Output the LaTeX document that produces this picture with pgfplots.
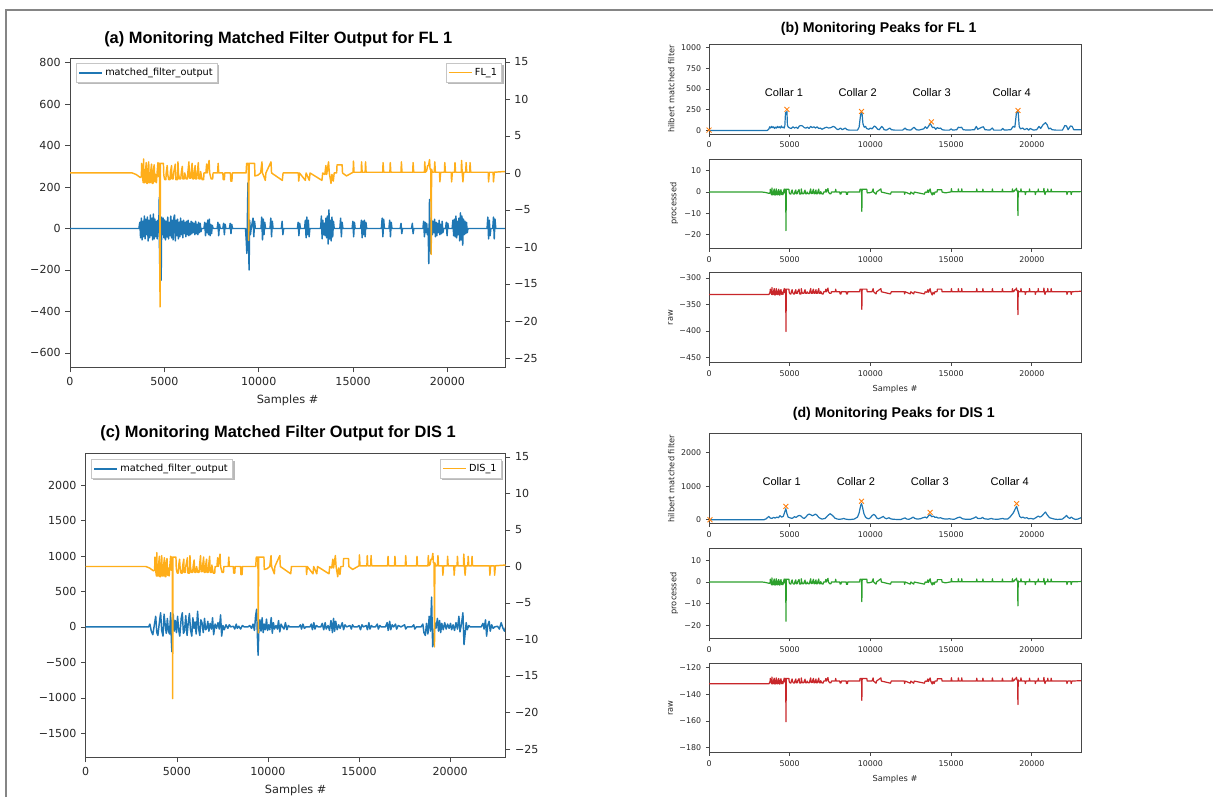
\documentclass[border=0pt]{standalone}
\usepackage{fontspec}
\setmainfont{DejaVu Sans}
\newfontfamily\arialfont{Liberation Sans}
\usepackage{pgfplots}
\pgfplotsset{compat=1.18}
\usepackage{pgfplotstable}
\pgfdeclarelayer{background}
\pgfsetlayers{background,main}

\definecolor{mblue}{HTML}{1F77B4}
\definecolor{morange}{HTML}{FFAE1A}
\definecolor{xorange}{HTML}{FF7F0E}
\definecolor{mgreen}{HTML}{2CA02C}
\definecolor{mred}{HTML}{C8262A}
\definecolor{spine}{HTML}{474747}
\definecolor{framec}{HTML}{858585}

% processed signal (p), raw for FL 1 (rb), raw for DIS 1 (rd)
\pgfplotstableread{
t p rb rd
0 0 -331 -132
3300 0 -331 -132
3500 -0.2 -331 -132
3720 -0.6 -331 -132
3780 -0.5 -327 -130.5
3800 1.3 -321 -128
3830 -0.4 -327 -130.6
3880 -1.3 -331 -132
3900 1.9 -318 -127
3920 -1.3 -331 -132
3980 -1.3 -331 -132
4000 0.2 -325 -129.7
4040 1.4 -320 -127.8
4070 -1.4 -332 -132.2
4110 -1.4 -332 -132.2
4130 0.1 -326 -130
4170 1.5 -320 -127.6
4200 -1.3 -331 -132
4260 -1.3 -331 -132
4280 0.3 -325 -129.5
4320 1.2 -321 -128
4350 -1.4 -332 -132.2
4400 -1.4 -332 -132.2
4420 0.4 -324 -129.4
4460 1.1 -322 -128.2
4500 -1.2 -331 -132
4540 -0.2 -327 -130.3
4580 -1.3 -331 -132
4620 0.2 -325 -129.7
4660 1.4 -320 -127.8
4700 -0.5 -328 -130.8
4720 1.3 -321 -128
4750 1.3 -321 -128
4770 -18.1 -401 -160.5
4790 1.3 -321 -128
4950 1.3 -321 -128
4970 -0.3 -327 -130.5
5020 -0.9 -330 -131.4
5080 -0.9 -330 -131.4
5100 0.1 -326 -130
5150 1.0 -322 -128.4
5180 -0.2 -327 -130.3
5230 -0.9 -330 -131.4
5300 -0.9 -330 -131.4
5320 0.1 -326 -130
5380 1.0 -322 -128.4
5400 -0.8 -329 -131.3
5470 -0.8 -329 -131.3
5490 0 -326 -130
5580 1.2 -321 -128.1
5610 -0.9 -330 -131.4
5700 -0.9 -330 -131.4
5720 1.5 -320 -127.6
5750 -0.1 -326 -130.2
5800 -0.8 -329 -131.3
5870 -0.8 -329 -131.3
5900 0.1 -326 -130
5950 0.9 -322 -128.6
5980 -0.8 -329 -131.3
6050 -0.8 -329 -131.3
6080 0 -326 -130
6150 -0.8 -329 -131.3
6220 -0.8 -329 -131.3
6250 0.2 -325 -129.7
6300 1.5 -320 -127.6
6330 -0.7 -329 -131.1
6400 -0.7 -329 -131.1
6420 0.2 -325 -129.7
6470 1.3 -321 -128
6500 -0.8 -329 -131.3
6560 -0.8 -329 -131.3
6580 0.1 -326 -130
6630 1.0 -322 -128.4
6650 -0.8 -329 -131.3
6720 -0.8 -329 -131.3
6740 0 -326 -130
6800 1.4 -320 -127.8
6830 -0.8 -329 -131.3
6900 -0.8 -329 -131.3
6920 0.2 -325 -129.7
7000 -0.9 -330 -131.4
7080 -0.9 -330 -131.4
7100 0 -326 -130
7200 0 -326 -130
7240 1.2 -321 -128.1
7270 0 -326 -130
7370 1.7 -319 -127.3
7400 0 -326 -130
7480 -0.8 -329 -131.3
7560 -0.8 -329 -131.3
7580 0 -326 -130
7820 0 -326 -130
7850 1.3 -321 -128
7880 0 -326 -130
8100 0 -326 -130
8120 -0.9 -330 -131.4
8180 -0.9 -330 -131.4
8200 0 -326 -130
8500 0 -326 -130
8520 -1.1 -330 -131.8
8580 -1.1 -330 -131.8
8600 0 -326 -130
9330 0 -326 -130
9360 1.3 -321 -128
9450 1.3 -321 -128
9470 -9.1 -359 -144.5
9490 1.3 -321 -128
9780 1.3 -321 -128
9800 -0.4 -326 -130
9950 -0.3 -326 -130
10100 0 -326 -130
10170 1.5 -320 -127.6
10200 0 -326 -130
10350 -1.0 -330 -131.6
10380 0 -326 -130
10650 1.5 -320 -127.6
10680 0 -326 -130
11250 -1.0 -330 -131.6
11290 0 -326 -130
12100 0 -326 -130
12120 -1.1 -330 -131.8
12160 0 -326 -130
12470 -1.0 -330 -131.6
12510 0 -326 -130
12680 -1.0 -330 -131.6
12720 0 -326 -130
13350 -1.0 -330 -131.6
13390 0 -326 -130
13500 -0.2 -327 -130.3
13560 1.0 -322 -128.4
13600 -0.2 -327 -130.3
13700 1.5 -320 -127.6
13740 0 -326 -130
13830 -1.4 -332 -132.2
13880 -0.2 -327 -130.3
13950 -1.1 -330 -131.8
14000 0 -326 -130
14130 0 -326 -130
14150 1.1 -321 -128.2
14420 1.1 -321 -128.2
14440 0 -326 -130
14650 -0.4 -326 -130
15000 0.1 -326 -130
15020 1.6 -320 -127.5
15050 0.1 -326 -130
15430 0.1 -326 -130
15450 1.5 -320 -127.6
15480 0.1 -326 -130
15640 0.1 -326 -130
15660 1.5 -320 -127.6
15690 0.1 -326 -130
16570 0.1 -326 -130
16590 1.4 -320 -127.8
16620 0.1 -326 -130
16950 0.1 -326 -130
16970 1.4 -320 -127.8
17000 0.1 -326 -130
17540 0.1 -326 -130
17560 1.5 -320 -127.6
17590 0.1 -326 -130
18160 0.1 -326 -130
18180 1.4 -320 -127.8
18210 0.1 -326 -130
18780 0.1 -326 -130
18800 1.5 -320 -127.6
18830 0.1 -326 -130
18900 0.3 -325 -129.5
18950 1.0 -322 -128.4
19000 1.0 -322 -128.4
19050 1.8 -319 -127.1
19080 0.5 -324 -129.2
19120 0.5 -324 -129.2
19140 -11.0 -369 -147.6
19160 0.5 -324 -129.2
19200 0.1 -326 -130
19300 0.1 -326 -130
19330 1.5 -320 -127.6
19360 0.1 -326 -130
19580 0.1 -326 -130
19600 -1.2 -331 -131.9
19640 0.1 -326 -130
19840 0.1 -326 -130
19860 1.4 -320 -127.8
19890 0.1 -326 -130
20200 0.1 -326 -130
20220 -1.2 -331 -131.9
20260 0.1 -326 -130
20380 0.1 -326 -130
20400 1.4 -320 -127.8
20430 0.1 -326 -130
20730 0.1 -326 -130
20750 1.7 -319 -127.3
20780 0.1 -326 -130
20820 -1.2 -331 -131.9
20860 0.1 -326 -130
20970 0.1 -326 -130
20990 1.4 -320 -127.8
21020 0.1 -326 -130
21180 0.1 -326 -130
21200 1.4 -320 -127.8
21230 0.1 -326 -130
22160 0.1 -326 -130
22180 -1.2 -331 -131.9
22220 0.1 -326 -130
22420 0.1 -326 -130
22440 -1.2 -331 -131.9
22480 0.1 -326 -130
23050 0.2 -325 -129.7
}\proc

% matched filter output, FL 1
\pgfplotstableread{
t v
0 0
3650 0
3700 30
3740 -45
3780 50
3820 -55
3860 35
3900 -40
3940 60
3980 -50
4020 45
4060 -30
4100 55
4140 -60
4180 40
4220 -45
4260 65
4300 -35
4340 50
4380 -55
4420 70
4460 -50
4500 45
4540 -40
4580 35
4620 -50
4660 40
4700 -20
4730 150
4745 -170
4770 60
4800 -40
4830 -250
4860 55
4900 -30
4940 50
4980 -45
5020 40
5060 -55
5100 35
5140 -40
5180 55
5220 -50
5260 30
5300 -35
5340 60
5380 -45
5420 40
5460 -55
5500 50
5540 65
5580 -60
5620 40
5660 -35
5700 45
5740 -50
5780 30
5820 -40
5860 50
5900 -30
5940 35
5980 -45
6020 40
6060 -25
6100 30
6140 -40
6180 35
6220 -30
6260 40
6300 -35
6340 25
6380 -30
6420 35
6460 -25
6500 30
6540 -20
6580 25
6620 -30
6660 35
6700 -25
6740 20
6780 -30
6820 30
6860 -20
6900 25
6940 -15
6980 0
7100 0
7140 30
7180 -35
7220 25
7260 -20
7300 40
7340 -30
7380 45
7420 -35
7460 20
7500 -25
7540 15
7580 0
7800 0
7840 30
7880 -35
7920 20
7960 0
8100 0
8140 25
8180 -30
8220 20
8260 0
8450 0
8490 25
8530 -25
8570 20
8610 0
9300 0
9340 -60
9370 -120
9400 50
9430 220
9460 -60
9490 -200
9520 40
9560 -30
9600 0
9700 50
9740 -40
9780 35
9820 0
10120 0
10160 55
10200 -55
10240 45
10280 -30
10320 30
10360 0
10600 0
10640 50
10680 -40
10720 35
10760 0
11200 0
11240 35
11280 -30
11320 0
12050 0
12090 30
12130 -35
12170 25
12210 0
12430 0
12470 40
12510 -45
12550 55
12590 -30
12630 40
12670 -40
12710 0
13280 0
13320 60
13360 -50
13400 40
13440 -30
13480 25
13520 -35
13560 50
13600 -45
13640 60
13680 -75
13720 90
13760 -50
13800 40
13840 -60
13880 55
13920 -40
13960 35
14000 0
14300 0
14340 50
14380 -40
14420 30
14460 0
14950 0
14990 35
15030 -40
15070 30
15110 0
15400 0
15440 40
15480 -45
15520 35
15560 -30
15600 40
15640 -40
15680 30
15720 0
16500 0
16540 50
16580 -40
16620 45
16660 0
16900 0
16940 40
16980 -40
17020 30
17060 0
17500 0
17540 25
17580 -25
17620 0
18100 0
18140 25
18180 -25
18220 0
18700 0
18740 35
18780 -40
18820 30
18860 -20
18900 25
18940 -30
18980 0
19010 -170
19050 140
19080 -60
19120 -120
19160 40
19200 -30
19240 35
19280 -20
19320 45
19360 -40
19400 30
19440 -35
19480 25
19520 -20
19560 40
19600 -30
19640 20
19680 -25
19720 35
19760 -20
19800 0
19900 0
19940 30
19980 -35
20020 25
20060 0
20250 0
20290 40
20330 -35
20370 45
20410 -40
20450 60
20490 -45
20530 35
20570 -30
20610 50
20650 -60
20690 75
20730 -55
20770 60
20810 -80
20850 45
20890 -30
20930 35
20970 -25
21010 30
21050 -20
21090 0
22100 0
22140 55
22180 -50
22220 40
22260 -35
22300 0
22400 0
22440 55
22480 -50
22520 45
22560 0
23050 0
}\mfa

% matched filter output, DIS 1
\pgfplotstableread{
t v
0 0
3450 0
3520 40
3600 -60
3680 -110
3760 20
3840 150
3900 -80
3960 -120
4040 60
4110 200
4170 -50
4240 -130
4300 180
4360 30
4420 -90
4480 120
4540 -60
4600 -100
4660 200
4700 -200
4730 -350
4760 50
4800 180
4860 -60
4920 90
4980 -80
5040 150
5100 -40
5160 -130
5240 120
5300 200
5360 -90
5420 -60
5490 160
5560 -120
5620 40
5690 190
5750 -40
5820 -130
5880 130
5940 -20
6000 70
6060 -100
6140 220
6200 -30
6260 -120
6320 100
6380 60
6450 -80
6520 120
6580 -40
6640 -20
6700 80
6760 -60
6830 50
6900 -30
6960 130
7020 -110
7100 40
7180 -20
7260 60
7330 -30
7400 170
7460 -130
7530 20
7600 -40
7700 30
7800 -20
7880 30
7960 0
8100 10
8180 -30
8260 40
8320 -20
8400 10
8500 -30
8600 20
8700 0
8900 0
9000 20
9100 -20
9180 40
9260 -50
9320 150
9380 250
9430 -200
9460 -400
9500 -50
9560 100
9620 -60
9680 130
9740 -80
9800 40
9860 -40
9920 110
9980 -50
10040 30
10100 -40
10180 130
10240 -90
10300 60
10360 -30
10440 20
10520 -30
10580 90
10650 -70
10720 40
10800 0
10880 -30
10960 60
11040 -40
11120 20
11200 0
11700 0
11780 30
11840 -30
11920 40
12000 -20
12080 0
12300 0
12380 40
12440 -40
12520 60
12580 -30
12660 20
12760 0
12900 0
12980 50
13060 -40
13140 60
13200 -30
13300 20
13380 -50
13460 90
13540 -80
13600 120
13660 -60
13720 80
13800 -40
13880 30
13960 -20
14080 60
14150 -40
14230 30
14320 0
14500 20
14580 -30
14640 30
14720 0
14900 0
15000 20
15080 -40
15160 30
15240 0
15400 20
15460 -40
15540 60
15600 -30
15680 20
15760 0
15900 0
16000 40
16060 -30
16140 20
16220 0
16450 0
16540 60
16600 -50
16680 80
16740 -40
16820 30
16900 0
17000 40
17060 -30
17150 20
17300 0
17500 30
17560 -30
17640 0
17900 0
18000 30
18060 -30
18140 0
18400 0
18500 40
18560 -80
18640 -120
18700 50
18780 -100
18850 150
18920 -60
18980 420
19040 -280
19100 -200
19160 60
19220 -20
19300 120
19360 -60
19420 90
19480 -80
19540 50
19620 -40
19700 60
19780 -30
19860 40
19940 -20
20020 50
20080 -40
20160 30
20240 -50
20320 60
20400 -30
20480 150
20540 -70
20620 40
20700 200
20760 -250
20820 -100
20880 60
20940 -40
21020 20
21100 0
21700 0
21800 50
21860 -30
21940 100
22000 -130
22060 20
22140 80
22200 -60
22280 30
22360 -20
22440 0
22600 10
22700 -30
22800 60
22900 -20
22980 -60
23050 0
}\mfc

% hilbert envelope, FL 1
\pgfplotstableread{
t h
0 0
3600 0
3700 15
3760 45
3820 30
3880 50
3940 35
4000 45
4060 25
4120 40
4180 30
4240 50
4300 35
4360 45
4420 30
4480 55
4540 35
4600 40
4660 30
4700 60
4740 215
4800 220
4830 230
4860 60
4920 40
5000 30
5100 25
5200 45
5300 30
5400 40
5500 25
5600 55
5700 60
5800 55
5900 35
6000 30
6100 40
6200 25
6300 50
6400 35
6500 45
6600 30
6700 45
6800 25
6900 30
7000 15
7100 25
7200 35
7300 40
7400 30
7550 35
7700 50
7800 40
7900 20
8000 10
8150 30
8250 10
8450 30
8550 10
8700 5
9200 5
9300 40
9380 170
9420 215
9480 210
9540 80
9620 40
9700 50
9760 25
9900 15
10000 30
10100 20
10250 55
10350 40
10450 15
10550 10
10700 50
10780 35
10850 10
11000 5
11200 30
11300 10
11500 5
12000 5
12150 30
12250 10
12500 5
12700 40
12850 10
13000 5
13300 20
13400 45
13500 25
13600 50
13700 85
13780 60
13850 35
13950 40
14050 15
14150 35
14250 25
14350 30
14450 10
14600 5
14900 5
15000 20
15100 5
15350 10
15450 40
15550 35
15650 40
15750 10
16000 5
16450 10
16560 50
16650 15
16900 40
17000 45
17100 10
17400 5
17550 30
17650 5
18100 5
18200 25
18300 5
18700 10
18850 50
18950 40
19050 215
19100 230
19160 215
19220 50
19300 20
19450 30
19550 10
19700 25
19800 5
19900 25
20000 15
20100 5
20300 10
20450 50
20550 25
20700 70
20850 95
20950 70
21050 20
21150 30
21250 10
21500 5
21900 5
22050 60
22150 55
22250 10
22400 55
22500 50
22600 10
23050 10
}\hb

% hilbert envelope, DIS 1
\pgfplotstableread{
t h
0 0
3400 0
3550 30
3700 100
3800 50
3900 40
4000 70
4100 50
4200 80
4300 60
4400 120
4500 80
4600 100
4700 240
4760 330
4820 200
4900 80
5000 60
5150 40
5300 90
5400 70
5500 110
5600 130
5700 110
5800 60
5900 40
6000 80
6100 140
6200 170
6300 150
6400 120
6500 140
6600 170
6700 130
6800 70
6900 40
7000 20
7200 40
7350 120
7500 180
7650 130
7800 50
7950 20
8100 15
8250 25
8350 40
8450 20
8600 10
8800 10
9000 20
9200 80
9300 200
9400 430
9450 480
9500 400
9600 180
9700 80
9800 40
9900 30
10000 60
10100 120
10200 160
10300 130
10400 50
10500 30
10650 60
10800 100
10900 50
11000 30
11150 60
11250 30
11400 15
11600 10
11900 10
12050 40
12150 55
12250 20
12400 15
12550 50
12650 80
12750 40
12900 20
13100 30
13250 60
13400 80
13500 50
13600 120
13700 150
13800 90
13900 110
14000 70
14100 80
14200 50
14350 60
14500 30
14700 20
14900 30
15000 20
15200 15
15400 60
15550 80
15700 30
15900 15
16200 15
16450 60
16550 90
16650 40
16850 40
16950 70
17050 30
17300 15
17500 40
17600 20
17900 15
18100 30
18200 40
18300 20
18500 20
18650 80
18850 200
19000 350
19060 400
19120 300
19250 100
19350 60
19450 80
19550 50
19700 60
19800 30
19950 40
20100 20
20250 60
20400 110
20500 80
20600 100
20750 180
20850 230
20950 150
21100 60
21250 40
21400 20
21600 10
21900 20
22050 80
22150 130
22250 70
22350 40
22450 80
22550 40
22700 10
22850 20
23050 60
}\hd

\pgfplotsset{
  base/.style={scale only axis, xmin=0, xmax=23050,
    axis line style={spine, line width=0.6pt},
    tick style={spine, line width=0.5pt},
    tick align=outside,
    scaled x ticks=false, scaled y ticks=false,
    xtick={0,5000,10000,15000,20000},
    xticklabels={0,5000,10000,15000,20000},
    every axis plot/.append style={line join=round}},
  big/.style={base, major tick length=3.5pt,
    tick label style={font=\fontsize{8.3}{9}\selectfont, text=black!85},
    label style={font=\fontsize{8.5}{10}\selectfont, text=black!85}},
  small/.style={base, width=279pt, height=67.5pt, major tick length=2.4pt,
    tick label style={font=\fontsize{5.9}{6.5}\selectfont, text=black!85},
    label style={font=\fontsize{6.2}{7}\selectfont, text=black!85},
    ylabel style={yshift=-2pt}},
  leg/.style={legend cell align=left,
    legend style={font=\fontsize{7.3}{8}\selectfont, draw=gray!45, fill=white,
      inner sep=1.5pt}},
  xmark/.style={only marks, mark=x, mark size=2.6pt, draw=xorange,
    mark options={draw=xorange, line width=0.65pt, line cap=butt, fill=none}},
}
\newcommand\legshadow[1]{%
  \begin{pgfonlayer}{background}
  \fill[gray!55] ([shift={(1.4pt,-1.4pt)}]#1.south west) rectangle ([shift={(1.4pt,-1.4pt)}]#1.north east);
  \end{pgfonlayer}}

\begin{document}
\begin{tikzpicture}
\useasboundingbox (0,0) rectangle (909.75pt,-597.75pt);
\draw[framec, line width=1.6pt] (4.5pt,-597.75pt) -- (4.5pt,-7.5pt) -- (909.75pt,-7.5pt);

% titles
\node[font=\arialfont\bfseries\fontsize{12.3}{14}\selectfont] at (208.7pt,-29.5pt) {(a) Monitoring Matched Filter Output for FL 1};
\node[font=\arialfont\bfseries\fontsize{12.3}{14}\selectfont] at (208.5pt,-325pt) {(c) Monitoring Matched Filter Output for DIS 1};
\node[font=\arialfont\bfseries\fontsize{10.6}{12}\selectfont] at (659pt,-21.75pt) {(b) Monitoring Peaks for FL 1};
\node[font=\arialfont\bfseries\fontsize{10.6}{12}\selectfont] at (670.3pt,-310.5pt) {(d) Monitoring Peaks for DIS 1};

% ---------- (a) ----------
\begin{axis}[big, leg, at={(52.5pt,-43.7pt)}, anchor=north west,
  width=326.25pt, height=232pt, ymin=-671, ymax=821,
  ytick={-600,-400,-200,0,200,400,600,800},
  yticklabels={−600,−400,−200,0,200,400,600,800},
  ytick pos=left, xtick pos=bottom,
  xlabel={Samples \#},
  legend style={at={(0.014,0.984)}, anchor=north west, name=legA1}]
\addplot[mblue, mark=none, line width=1.1pt] table[x=t, y=v] {\mfa};
\addlegendentry{matched\_filter\_output}
\end{axis}
\legshadow{legA1}
\begin{axis}[big, leg, at={(52.5pt,-43.7pt)}, anchor=north west,
  width=326.25pt, height=232pt, ymin=-26.3, ymax=15.5,
  axis x line=none, axis y line*=right,
  ytick={-25,-20,-15,-10,-5,0,5,10,15},
  yticklabels={−25,−20,−15,−10,−5,0,5,10,15},
  legend style={at={(0.993,0.984)}, anchor=north east, name=legA2}]
\addplot[morange, mark=none, line width=1.1pt] table[x=t, y=p] {\proc};
\addlegendentry{FL\_1}
\end{axis}
\legshadow{legA2}

% ---------- (c) ----------
\begin{axis}[big, leg, at={(64.3pt,-340.3pt)}, anchor=north west,
  width=315pt, height=228pt, ymin=-1844, ymax=2441,
  ytick={-1500,-1000,-500,0,500,1000,1500,2000},
  yticklabels={−1500,−1000,−500,0,500,1000,1500,2000},
  ytick pos=left, xtick pos=bottom,
  xlabel={Samples \#},
  legend style={at={(0.013,0.982)}, anchor=north west, name=legC1}]
\addplot[mblue, mark=none, line width=1.1pt] table[x=t, y=v] {\mfc};
\addlegendentry{matched\_filter\_output}
\end{axis}
\legshadow{legC1}
\begin{axis}[big, leg, at={(64.3pt,-340.3pt)}, anchor=north west,
  width=315pt, height=228pt, ymin=-26.2, ymax=15.45,
  axis x line=none, axis y line*=right,
  ytick={-25,-20,-15,-10,-5,0,5,10,15},
  yticklabels={−25,−20,−15,−10,−5,0,5,10,15},
  legend style={at={(0.99,0.982)}, anchor=north east, name=legC2}]
\addplot[morange, mark=none, line width=1.1pt] table[x=t, y=p] {\proc};
\addlegendentry{DIS\_1}
\end{axis}
\legshadow{legC2}

% ---------- (b) ----------
\begin{axis}[small, at={(531.75pt,-33pt)}, anchor=north west,
  ymin=-42, ymax=1045, ytick={0,250,500,750,1000},
  yticklabels={0,250,500,750,1000},
  ytick pos=left, xtick pos=bottom,
  ylabel={hilbert matched filter}]
\addplot[mblue, mark=none, line width=0.9pt] table[x=t, y=h] {\hb};
\addplot[xmark] coordinates {(0,5) (4830,255) (9450,230) (13780,105) (19150,242)};
\node[font=\arialfont\fontsize{8.3}{9}\selectfont] at (axis cs:4644,454) {Collar 1};
\node[font=\arialfont\fontsize{8.3}{9}\selectfont] at (axis cs:9213,454) {Collar 2};
\node[font=\arialfont\fontsize{8.3}{9}\selectfont] at (axis cs:13796,454) {Collar 3};
\node[font=\arialfont\fontsize{8.3}{9}\selectfont] at (axis cs:18751,454) {Collar 4};
\end{axis}
\begin{axis}[small, at={(531.75pt,-119.25pt)}, anchor=north west,
  height=67pt, ymin=-26.4, ymax=15.5, ytick={-20,-10,0,10},
  yticklabels={−20,−10,0,10},
  ytick pos=left, xtick pos=bottom,
  ylabel={processed}]
\addplot[mgreen, mark=none, line width=0.9pt] table[x=t, y=p] {\proc};
\end{axis}
\begin{axis}[small, at={(531.75pt,-204.2pt)}, anchor=north west,
  height=67.8pt, ymin=-459.4, ymax=-289.3, ytick={-450,-400,-350,-300},
  yticklabels={−450,−400,−350,−300},
  ytick pos=left, xtick pos=bottom,
  ylabel={raw}, xlabel={Samples \#}]
\addplot[mred, mark=none, line width=0.9pt] table[x=t, y=rb] {\proc};
\end{axis}

% ---------- (d) ----------
\begin{axis}[small, at={(531.75pt,-325.3pt)}, anchor=north west,
  ymin=-119, ymax=2564, ytick={0,1000,2000},
  yticklabels={0,1000,2000},
  ytick pos=left, xtick pos=bottom,
  ylabel={hilbert matched filter}]
\addplot[mblue, mark=none, line width=0.9pt] table[x=t, y=h] {\hd};
\addplot[xmark] coordinates {(60,0) (4760,400) (9450,550) (13700,220) (19060,480)};
\node[font=\arialfont\fontsize{8.3}{9}\selectfont] at (axis cs:4500,1150) {Collar 1};
\node[font=\arialfont\fontsize{8.3}{9}\selectfont] at (axis cs:9102,1150) {Collar 2};
\node[font=\arialfont\fontsize{8.3}{9}\selectfont] at (axis cs:13684,1150) {Collar 3};
\node[font=\arialfont\fontsize{8.3}{9}\selectfont] at (axis cs:18638,1150) {Collar 4};
\end{axis}
\begin{axis}[small, at={(531.75pt,-411.5pt)}, anchor=north west,
  height=67.2pt, ymin=-26, ymax=15.4, ytick={-20,-10,0,10},
  yticklabels={−20,−10,0,10},
  ytick pos=left, xtick pos=bottom,
  ylabel={processed}]
\addplot[mgreen, mark=none, line width=0.9pt] table[x=t, y=p] {\proc};
\end{axis}
\begin{axis}[small, at={(531.75pt,-497.5pt)}, anchor=north west,
  height=67pt, ymin=-183.75, ymax=-116.7, ytick={-180,-160,-140,-120},
  yticklabels={−180,−160,−140,−120},
  ytick pos=left, xtick pos=bottom,
  ylabel={raw}, xlabel={Samples \#}]
\addplot[mred, mark=none, line width=0.9pt] table[x=t, y=rd] {\proc};
\end{axis}
\end{tikzpicture}
\end{document}
